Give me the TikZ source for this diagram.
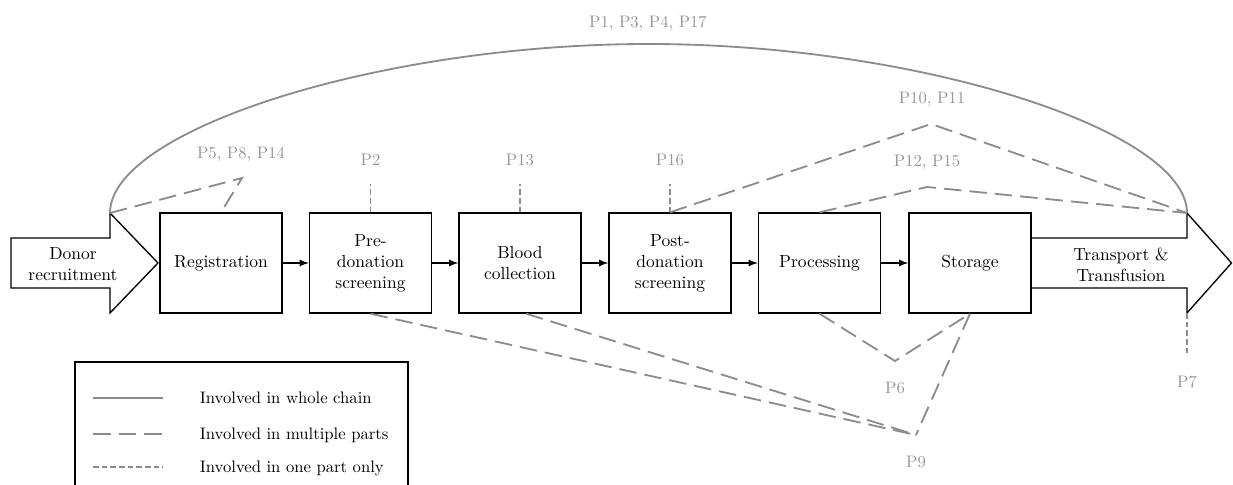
\documentclass[tikz,border=0pt]{standalone}
\definecolor{partgray}{RGB}{140,140,140}
\definecolor{labelgray}{RGB}{150,150,150}
\tikzset{
  stage/.style={draw, line width=0.8pt, minimum width=73.2pt, minimum height=60pt, align=center, inner sep=1pt, font=\fontsize{10.5}{12.6}\selectfont},
  arrowtext/.style={align=center, font=\fontsize{10.5}{12.6}\selectfont},
  flow/.style={draw, line width=0.9pt, -latex},
  wholeline/.style={draw=partgray, line width=1.1pt},
  multiline/.style={draw=partgray, line width=1.1pt, dash pattern=on 10.5pt off 4.8pt},
  oneline/.style={draw=partgray, line width=0.8pt, dash pattern=on 3.4pt off 1.8pt},
  plabel/.style={text=labelgray}
}
\begin{document}
\begin{tikzpicture}[x=6pt,y=-6pt]
\useasboundingbox (0,0) rectangle (123.3,48.5);
\path[draw,line width=0.8pt] (1.1,23.8) -- (11,23.8) -- (11,21.3) -- (15.8,26.3) -- (11,31.3) -- (11,28.8) -- (1.1,28.8) -- cycle;
\path[draw,line width=0.8pt] (103.2,23.8) -- (118.7,23.8) -- (118.7,21.3) -- (123.15,26.3) -- (118.7,31.3) -- (118.7,28.8) -- (103.2,28.8);
\coordinate (left) at (11,21.3);
\coordinate (right) at (118.7,21.3);
\coordinate (rightlow) at (118.7,31.3);
\node[arrowtext] (recruit) at (7.3,26.4) {Donor\\recruitment};
\node[arrowtext] (transfuse) at (112.1,26.5) {Transport \&\\Transfusion};
\node[stage] (reg) at (22.1,26.3) {Registration};
\node[stage] (pre) at (37.05,26.3) {Pre-\\donation\\screening};
\node[stage] (blood) at (52,26.3) {Blood\\collection};
\node[stage] (post) at (67,26.3) {Post-\\donation\\screening};
\node[stage] (proc) at (81.95,26.3) {Processing};
\node[stage] (store) at (97,26.3) {Storage};
\path[flow] (reg) -- (pre);
\path[flow] (pre) -- (blood);
\path[flow] (blood) -- (post);
\path[flow] (post) -- (proc);
\path[flow] (proc) -- (store);

\path[wholeline] (left) .. controls (11,13) and (38,4.4) .. (64.85,4.4) .. controls (91.7,4.4) and (118.7,13) .. (right);
\node[plabel] (p1) at (64.8,2.3) {P1, P3, P4, P17};

\coordinate (p5apex) at (24.2,17.8);
\path[multiline] (left) -- (p5apex) -- (reg.north);
\node[plabel] (p5) at (24.1,15.4) {P5, P8, P14};

\coordinate (p2end) at (37.05,18.4);
\coordinate (p13end) at (52,18.4);
\coordinate (p16end) at (67,18.4);
\coordinate (p7end) at (118.7,35.4);
\path[oneline] (pre.north) -- (p2end);
\path[oneline] (blood.north) -- (p13end);
\path[oneline] (post.north) -- (p16end);
\path[oneline] (rightlow) -- (p7end);
\node[plabel] (p2) at (37.05,16) {P2};
\node[plabel] (p13) at (52,16) {P13};
\node[plabel] (p16) at (67,16) {P16};
\node[plabel] (p7) at (118.7,38.2) {P7};

\coordinate (p10apex) at (93.1,12.4);
\coordinate (p12apex) at (92.7,18.7);
\path[multiline] (post.north) -- (p10apex) -- (right);
\path[multiline] (proc.north) -- (p12apex) -- (right);
\node[plabel] (p10) at (93.2,9.9) {P10, P11};
\node[plabel] (p12) at (92.7,16.2) {P12, P15};

\coordinate (p6apex) at (89.5,36.1);
\coordinate (p9apex) at (91.6,43.5);
\path[multiline] (proc.south) -- (p6apex) -- (store.south);
\path[multiline] (pre.south) -- (p9apex);
\path[multiline] ([xshift=3.6pt]blood.south) -- (p9apex);
\path[multiline] (store.south) -- (p9apex);
\node[plabel] (p6) at (89.5,38.8) {P6};
\node[plabel] (p9) at (91.6,46.2) {P9};

\path[draw,line width=0.8pt] (7.5,48.5) -- (7.5,36.2) -- (40.8,36.2) -- (40.8,48.5);
\coordinate (k1a) at (9.3,39.8);
\coordinate (k1b) at (16.3,39.8);
\coordinate (k2a) at (9.3,43.4);
\coordinate (k2b) at (16.3,43.4);
\coordinate (k3a) at (9.3,46.7);
\coordinate (k3b) at (16.3,46.7);
\path[wholeline] (k1a) -- (k1b);
\path[multiline] (k2a) -- (k2b);
\path[oneline] (k3a) -- (k3b);
\node[anchor=west] (k1) at (19.4,39.8) {Involved in whole chain};
\node[anchor=west] (k2) at (19.4,43.5) {Involved in multiple parts};
\node[anchor=west] (k3) at (19.4,46.8) {Involved in one part only};
\end{tikzpicture}
\end{document}
